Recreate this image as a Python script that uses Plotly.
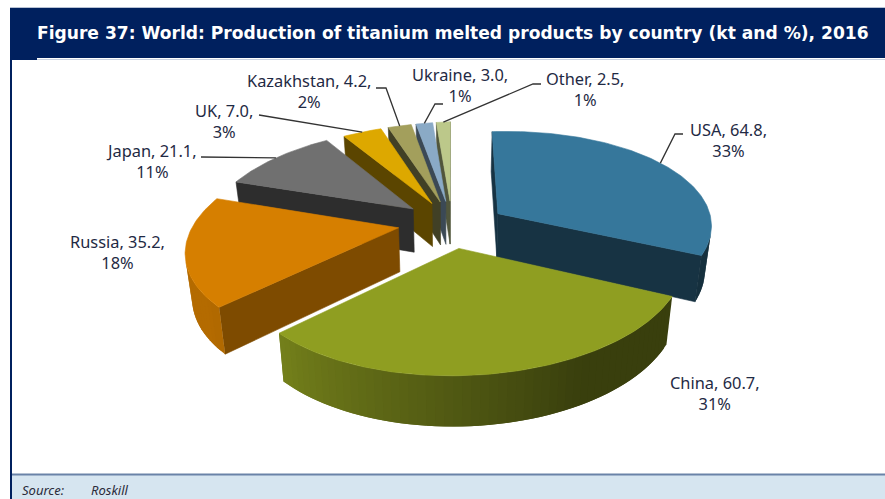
import numpy as np
import plotly.graph_objects as go

countries = ["USA", "China", "Russia", "Japan", "UK", "Kazakhstan", "Ukraine", "Other"]
values = [64.8, 60.7, 35.2, 21.1, 7.0, 4.2, 3.0, 2.5]
value_labels = ["64.8", "60.7", "35.2", "21.1", "7.0", "4.2", "3.0", "2.5"]
percents = [33, 31, 18, 11, 3, 2, 1, 1]
top_colors = ["#36779B", "#8F9E21", "#D67F00", "#707070", "#DDA800", "#A39F5C", "#8AAAC6", "#BCC88A"]
face_shades = [0.43, 0.43, 0.59, 0.40, 0.41, 0.40, 0.43, 0.43]
title = "Figure 37: World: Production of titanium melted products by country (kt and %), 2016"

# label centres and leader elbows (page pixels)
label_x = [728, 715, 117, 151, 224, 309, 460, 585]
label_y = [140, 393, 252, 161, 121, 91, 85, 89]
elbows = [[(675, 134), (683, 134)], None, None, [(201, 157)], [(263, 115), (259, 115)],
          [(386, 88), (376, 88)], [(435, 104), (443, 104)], [(533, 84), (541, 84)]]

# view model of the exploded 3D pie; small per-slice nudges in page pixels
CX, CY, A, B, P, Q, SHEAR, H, EXPLODE, BOTTOM = 452, 224, 211, 98.5, 0.158, 0.01, 0.028, 44, 0.242, 0.974
NUDGE_X = [3, 0, -3, -1, 0, 0, 0, 0]
NUDGE_Y = [3, 0, -2, -1, 0, 0, 0, 0]


def project(theta, r, off, i, bottom=False):
    X = r * np.sin(theta) + off[0]
    Y = -r * np.cos(theta) + off[1]
    s = 1 / (1 - P * Y - Q * X)
    sx = A * X * s
    sy = B * Y * s - SHEAR * sx
    if bottom:
        return CX + NUDGE_X[i] + BOTTOM * sx, CY + NUDGE_Y[i] + BOTTOM * sy + H * s
    return CX + NUDGE_X[i] + sx, CY + NUDGE_Y[i] + sy


def area(poly):
    x, y = np.array(poly).T
    return 0.5 * np.sum(x * np.roll(y, -1) - np.roll(x, -1) * y)


def shade(color, f):
    rgb = [int(color[i:i + 2], 16) for i in (1, 3, 5)]
    return "rgb(%d,%d,%d)" % tuple(round(c * f) for c in rgb)


fig = go.Figure()


def add_poly(poly, color, width=0.6):
    x, y = zip(*poly)
    line = dict(color=color, width=width)
    fig.add_trace(go.Scatter(x=list(x) + [x[0]], y=list(y) + [y[0]], mode="lines", fill="toself",
                             fillcolor=color, line=line, hoverinfo="skip", showlegend=False))


total = sum(values)
edges = np.concatenate([[0], np.cumsum(values)]) / total * 2 * np.pi
draw_order = [7, 6, 5, 4, 3, 2, 0, 1]
rim_points = {}
for i in draw_order:
    t0, t1 = edges[i], edges[i + 1]
    mid = (t0 + t1) / 2
    off = (EXPLODE * np.sin(mid), -EXPLODE * np.cos(mid))
    col = top_colors[i]
    # radial faces, culled when turned away from the viewer
    for t, sign in ((t0, -1), (t1, 1)):
        q = [project(t, 0, off, i), project(t, 1, off, i), project(t, 1, off, i, True), project(t, 0, off, i, True)]
        if area(q) * sign > 0:
            add_poly(q, shade(col, face_shades[i]))
    # outer rim as shaded strips, each overlapping the next so no seams show
    n = max(2, int(np.degrees(t1 - t0) / 2))
    ts = np.linspace(t0, t1, n + 1)
    step = ts[1] - ts[0]
    for a in ts[:-1][::-1]:
        b = min(a + 2 * step, t1)
        q = [project(a, 1, off, i), project(b, 1, off, i), project(b, 1, off, i, True), project(a, 1, off, i, True)]
        if area(q) < 0:
            f = np.interp(np.degrees(a + step / 2), [100, 150, 231, 300], [0.40, 0.40, 0.84, 0.84])
            add_poly(q, shade(col, f), 0)
    # top face
    tt = np.linspace(t0, t1, n * 2 + 1)
    add_poly([project(0, 0, off, i)] + [project(t, 1, off, i) for t in tt], col)
    rim_points[i] = project(mid, 1, off, i)

shapes = [
    dict(type="rect", x0=10, x1=885, y0=8, y1=58, fillcolor="#00205E", line_width=0, layer="below"),
    dict(type="rect", x0=10, x1=885, y0=7, y1=8, fillcolor="#B8C2D4", line_width=0, layer="below"),
    dict(type="rect", x0=37, x1=885, y0=59, y1=60, fillcolor="#C9D2E0", line_width=0, layer="below"),
    dict(type="rect", x0=10, x1=37, y0=58, y1=60, fillcolor="#00205E", line_width=0, layer="below"),
    dict(type="rect", x0=10, x1=12, y0=58, y1=499, fillcolor="#00205E", line_width=0, layer="below"),
    dict(type="rect", x0=12, x1=885, y0=475, y1=499, fillcolor="#D6E5F0", line_width=0, layer="below"),
    dict(type="rect", x0=12, x1=885, y0=473.5, y1=475.5, fillcolor="#6A83A8", line_width=0, layer="below"),
]
for i, elbow in enumerate(elbows):
    if elbow:
        pts = [rim_points[i]] + elbow
        fig.add_trace(go.Scatter(x=[p[0] for p in pts], y=[p[1] for p in pts], mode="lines",
                                 line=dict(color="#333333", width=1.3), hoverinfo="skip", showlegend=False))

annotations = [
    dict(x=35, y=33, text="<b>%s</b>" % title, showarrow=False, xanchor="left", yanchor="middle",
         font=dict(family="DejaVu Sans", size=17.1, color="white")),
    dict(x=20, y=490, text="<i>Source:</i>", showarrow=False, xanchor="left", yanchor="middle",
         font=dict(family="Noto Sans", size=13, color="#2B2B3B")),
    dict(x=89, y=490, text="<i>Roskill</i>", showarrow=False, xanchor="left", yanchor="middle",
         font=dict(family="Noto Sans", size=13, color="#2B2B3B")),
]
for name, v, pct, x, y in zip(countries, value_labels, percents, label_x, label_y):
    annotations.append(dict(x=x, y=y, text="%s, %s,<br>%d%%" % (name, v, pct), showarrow=False,
                            xanchor="center", yanchor="middle", align="center",
                            font=dict(family="Noto Sans", size=16.4, color="#1F2A44")))

fig.update_layout(width=885, height=499, margin=dict(l=0, r=0, t=0, b=0), paper_bgcolor="white",
                  plot_bgcolor="white", showlegend=False, shapes=shapes, annotations=annotations,
                  xaxis=dict(range=[0, 885], visible=False, fixedrange=True),
                  yaxis=dict(range=[499, 0], visible=False, fixedrange=True))
fig.write_html("out.html", config=dict(displayModeBar=False),
               post_script="document.body.style.margin='0';document.documentElement.style.overflow='hidden';")
